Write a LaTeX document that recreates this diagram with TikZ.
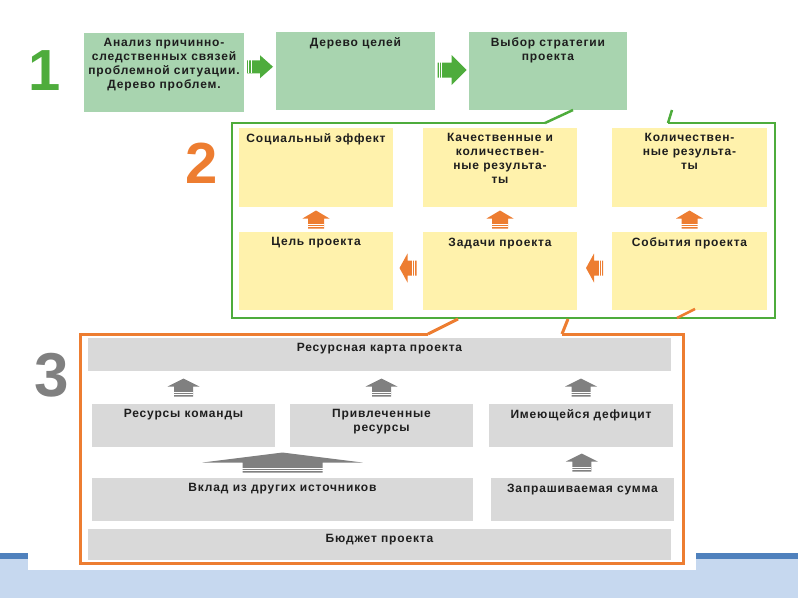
\documentclass[tikz,border=0pt]{standalone}
\usepackage{fontspec}
\setmainfont{Liberation Sans}
\newfontfamily\boxfont[LetterSpace=7]{Liberation Sans}
\usetikzlibrary{calc}
\definecolor{gbox}{RGB}{168,212,175}
\definecolor{ybox}{RGB}{255,242,172}
\definecolor{rbox}{RGB}{217,217,217}
\definecolor{gline}{RGB}{78,172,60}
\definecolor{oline}{RGB}{237,125,49}
\definecolor{garr}{RGB}{128,128,128}
\definecolor{lblue}{RGB}{198,216,239}
\definecolor{dblue}{RGB}{79,129,189}
\definecolor{txtc}{RGB}{30,30,30}
\tikzset{
  boxst/.style={draw=none, inner sep=0pt, outer sep=0pt},
  txt/.style={font=\boxfont\bfseries\fontsize{12}{14}\selectfont, text=txtc, align=center, inner sep=0pt, anchor=north},
  bignum/.style={font=\bfseries\fontsize{58}{58}\selectfont, inner sep=0pt},
}
\newcommand\DBox[7]{%
  \node[boxst, fill=#2, minimum width={(#5-#3)*1pt}, minimum height={(#6-#4)*1pt}] (#1) at ({(#3+#5)/2},{(#4+#6)/2}) {};
  \node[txt] (#1t) at ([yshift=-5.5pt]#1.north) {#7};}
\newcommand\StripeArrow[7]{%
  \begin{scope}[shift={#1}, rotate=#2]
    \pgfmathsetmacro\Ht{(#5+#6)/2}
    \fill[#7] (-#3,-\Ht+#5) -- (0,-\Ht) -- (#3,-\Ht+#5) -- (#4,-\Ht+#5) -- (#4,\Ht) -- (-#4,\Ht) -- (-#4,-\Ht+#5) -- cycle;
    \draw[white, line width=0.8pt] (-#4-0.2,\Ht-4) -- (#4+0.2,\Ht-4);
    \draw[white, line width=0.8pt] (-#4-0.2,\Ht-1.8) -- (#4+0.2,\Ht-1.8);
  \end{scope}}
\begin{document}
\begin{tikzpicture}[x=1pt,y=-1pt]
\useasboundingbox (0,0) rectangle (800,600);
% bottom band
\fill[lblue] (0,559) rectangle (798,598);
\fill[dblue] (0,553) rectangle (798,559);
\fill[white] (28,540) rectangle (696,570);
% numbers
\node[bignum, text=gline] (n1) at (45,71) {1};
\node[bignum, text=oline] (n2) at (202,163) {2};
\node[bignum, text=garr, font=\bfseries\fontsize{62}{62}\selectfont] (n3) at (52,375) {3};
% section 1
\DBox{g1}{gbox}{84}{33}{244}{112}{Анализ причинно-\\следственных связей\\проблемной ситуации.\\Дерево проблем.}
\DBox{g2}{gbox}{276}{32}{435}{110}{Дерево целей}
\DBox{g3}{gbox}{469}{32}{627}{110}{Выбор стратегии\\проекта}
\StripeArrow{($(g1.east)!0.5!(g2.west)+(0,-5)$)}{-90}{11.5}{6.5}{13}{13}{gline}
\StripeArrow{($(g2.east)!0.5!(g3.west)+(0,-1)$)}{-90}{15}{7.5}{15}{14}{gline}
% section 2 frame
\draw[gline, line width=2.5pt, line join=miter] (545,123) -- (232,123) -- (232,318) -- (775,318) -- (775,123) -- (668,123);
\draw[gline, line width=2.5pt] (545,123) -- (573,110);
\draw[gline, line width=2.5pt] (668,123) -- (672,110);
\DBox{y11}{ybox}{239}{128}{393}{207}{Социальный эффект}
\DBox{y12}{ybox}{423}{128}{577}{207}{Качественные и\\количествен-\\ные результа-\\ты}
\DBox{y13}{ybox}{612}{128}{767}{207}{Количествен-\\ные результа-\\ты}
\DBox{y21}{ybox}{239}{232}{393}{310}{Цель проекта}
\DBox{y22}{ybox}{423}{232}{577}{310}{Задачи проекта}
\DBox{y23}{ybox}{612}{232}{767}{310}{События проекта}
\StripeArrow{($(y11.south)!0.5!(y21.north)$)}{0}{13.5}{8}{8}{10}{oline}
\StripeArrow{($(y12.south)!0.5!(y22.north)$)}{0}{13.5}{8}{8}{10}{oline}
\StripeArrow{($(y13.south)!0.5!(y23.north)$)}{0}{13.5}{8}{8}{10}{oline}
\StripeArrow{($(y21.east)!0.5!(y22.west)+(0,-3)$)}{90}{14.5}{7.5}{8}{9}{oline}
\StripeArrow{($(y22.east)!0.5!(y23.west)+(0,-3)$)}{90}{14.5}{7.5}{8}{9}{oline}
% section 3 frame
\draw[oline, line width=3pt, line join=miter] (428,334) -- (80,334) -- (80,563) -- (683,563) -- (683,334) -- (562,334);
\draw[oline, line width=3pt] (428,334) -- (458,319);
\draw[oline, line width=3pt] (562,334) -- (568,319);
\draw[oline, line width=2.5pt] (677,318) -- (695,309);
\DBox{r0}{rbox}{88}{338}{671}{371}{Ресурсная карта проекта}
\DBox{r11}{rbox}{92}{404}{275}{447}{Ресурсы команды}
\DBox{r12}{rbox}{290}{404}{473}{447}{Привлеченные\\ресурсы}
\DBox{r13}{rbox}{489}{404}{673}{447}{Имеющейся дефицит}
\DBox{r21}{rbox}{92}{478}{473}{521}{Вклад из других источников}
\DBox{r22}{rbox}{491}{478}{674}{521}{Запрашиваемая сумма}
\DBox{r3}{rbox}{88}{529}{671}{560}{Бюджет проекта}
\StripeArrow{($(r11.north)!0.5!(r11.north |- r0.south)$)}{0}{16}{9.5}{8}{10}{garr}
\StripeArrow{($(r12.north)!0.5!(r12.north |- r0.south)$)}{0}{16}{9.5}{8}{10}{garr}
\StripeArrow{($(r13.north)!0.5!(r13.north |- r0.south)$)}{0}{16}{9.5}{8}{10}{garr}
\StripeArrow{($(r21.north)!0.5!(r21.north |- r11.south)$)}{0}{80}{40}{10}{10}{garr}
\StripeArrow{($(r22.north)!0.5!(r13.south)$)}{0}{16}{9.5}{8}{10}{garr}
\end{tikzpicture}
\end{document}
